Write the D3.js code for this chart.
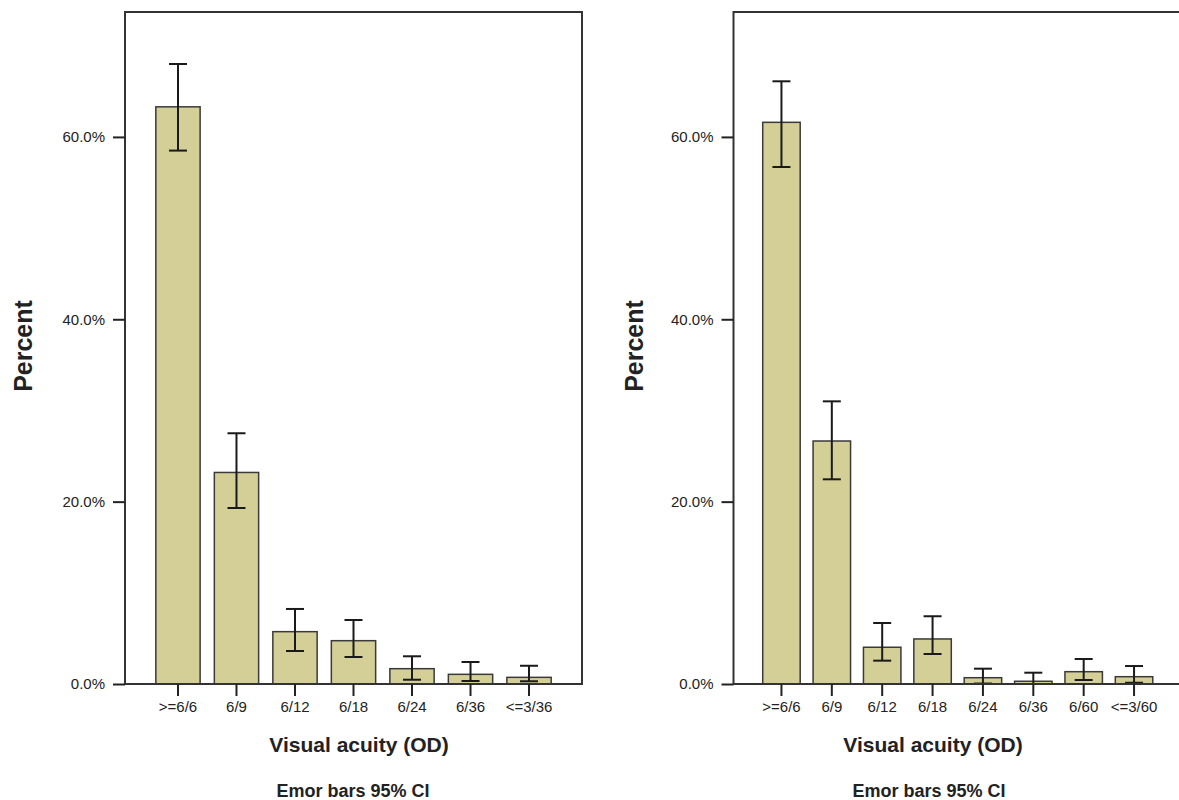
<!DOCTYPE html>
<html>
<head>
<meta charset="UTF-8">
<script src="https://d3js.org/d3.v7.min.js"></script>
<style>
  body { margin: 0; background: #fff; }
  svg { display: block; font-family: "Liberation Sans", Arial, sans-serif; }
</style>
</head>
<body>
<svg width="1179" height="800"></svg>
<script>
// left chart (OD, 7 groups)
const leftCats = [">=6/6", "6/9", "6/12", "6/18", "6/24", "6/36", "<=3/36"];
const leftPct  = [63.3, 23.2, 5.74, 4.75, 1.68, 1.06, 0.73];
const leftLow  = [58.5, 19.3, 3.62, 2.96, 0.47, 0.33, 0.30];
const leftHigh = [68.0, 27.5, 8.23, 7.02, 3.04, 2.41, 2.0];

// right chart (8 groups)
const rightCats = [">=6/6", "6/9", "6/12", "6/18", "6/24", "6/36", "6/60", "<=3/60"];
const rightPct  = [61.6, 26.65, 4.03, 4.94, 0.69, 0.30, 1.35, 0.80];
const rightLow  = [56.7, 22.45, 2.56, 3.29, 0.05, 0.0, 0.44, 0.14];
const rightHigh = [66.1, 31.0, 6.69, 7.43, 1.68, 1.24, 2.74, 1.97];

const yTicks = [0, 20, 40, 60];

const svg = d3.select("svg");
const fill = "#d4cf97";
const ink = "#222";

function panel(cats, pct, low, high, o) {
    const g = svg.append("g");
    const x = d3.scaleBand().domain(cats).range([o.x0, o.x1])
        .paddingInner(o.pi).paddingOuter(o.po);
    const y = d3.scaleLinear().domain([0, 73.7]).range([684, 12]);

    const rows = cats.map((c, i) => ({ c, v: pct[i], lo: low[i], hi: high[i] }));

    // bars
    g.selectAll("rect.bar").data(rows).enter().append("rect")
        .attr("class", "bar")
        .attr("x", d => x(d.c))
        .attr("y", d => y(d.v))
        .attr("width", x.bandwidth())
        .attr("height", d => y(0) - y(d.v))
        .attr("fill", fill)
        .attr("stroke", "#3a3a3a")
        .attr("stroke-width", 1.5);

    // error bars
    const cap = 9;
    const eb = g.selectAll("g.err").data(rows).enter().append("g")
        .attr("stroke", "#1a1a1a").attr("stroke-width", 2);
    eb.append("line")
        .attr("x1", d => x(d.c) + x.bandwidth() / 2).attr("x2", d => x(d.c) + x.bandwidth() / 2)
        .attr("y1", d => y(d.lo)).attr("y2", d => y(d.hi));
    eb.append("line")
        .attr("x1", d => x(d.c) + x.bandwidth() / 2 - cap).attr("x2", d => x(d.c) + x.bandwidth() / 2 + cap)
        .attr("y1", d => y(d.hi)).attr("y2", d => y(d.hi));
    eb.append("line")
        .attr("x1", d => x(d.c) + x.bandwidth() / 2 - cap).attr("x2", d => x(d.c) + x.bandwidth() / 2 + cap)
        .attr("y1", d => y(d.lo)).attr("y2", d => y(d.lo));

    // frame
    g.append("rect")
        .attr("x", o.x0).attr("y", y.range()[1])
        .attr("width", o.x1 - o.x0).attr("height", y(0) - y.range()[1])
        .attr("fill", "none").attr("stroke", "#333").attr("stroke-width", 2);

    // y axis
    const ya = g.append("g").attr("transform", `translate(${o.x0},0)`)
        .call(d3.axisLeft(y).tickValues(yTicks).tickSize(12).tickPadding(8)
            .tickFormat(d => d3.format(".1f")(d) + "%"));
    ya.select(".domain").remove();
    ya.selectAll("line").attr("stroke", "#222").attr("stroke-width", 2);
    ya.selectAll("text").attr("font-size", 15).attr("fill", ink)
        .attr("font-family", "Liberation Sans, Arial, sans-serif");

    // x axis
    const xa = g.append("g").attr("transform", `translate(0,${y(0)})`)
        .call(d3.axisBottom(x).tickSize(12).tickPadding(5));
    xa.select(".domain").remove();
    xa.selectAll("line").attr("stroke", "#222").attr("stroke-width", 2);
    xa.selectAll("text").attr("font-size", 15).attr("fill", ink)
        .attr("font-family", "Liberation Sans, Arial, sans-serif");

    // labels
    g.append("text")
        .attr("transform", `translate(${o.ylx},346) rotate(-90)`)
        .attr("text-anchor", "middle").attr("dy", "0.35em")
        .attr("font-size", 25).attr("font-weight", "bold").attr("fill", ink)
        .text("Percent");
    g.append("text")
        .attr("x", o.xlx).attr("y", 752)
        .attr("text-anchor", "middle")
        .attr("font-size", 21).attr("font-weight", "bold").attr("fill", ink)
        .text("Visual acuity (OD)");
    g.append("text")
        .attr("x", o.elx).attr("y", 797)
        .attr("text-anchor", "middle")
        .attr("font-size", 18).attr("font-weight", "bold").attr("fill", ink)
        .text("Emor bars 95% CI");
}

panel(leftCats, leftPct, leftLow, leftHigh,
    { x0: 125, x1: 582, pi: 0.243, po: 0.527, ylx: 23, xlx: 359, elx: 353 });
panel(rightCats, rightPct, rightLow, rightHigh,
    { x0: 733.5, x1: 1182, pi: 0.256, po: 0.58, ylx: 634, xlx: 933, elx: 929 });
</script>
</body>
</html>
